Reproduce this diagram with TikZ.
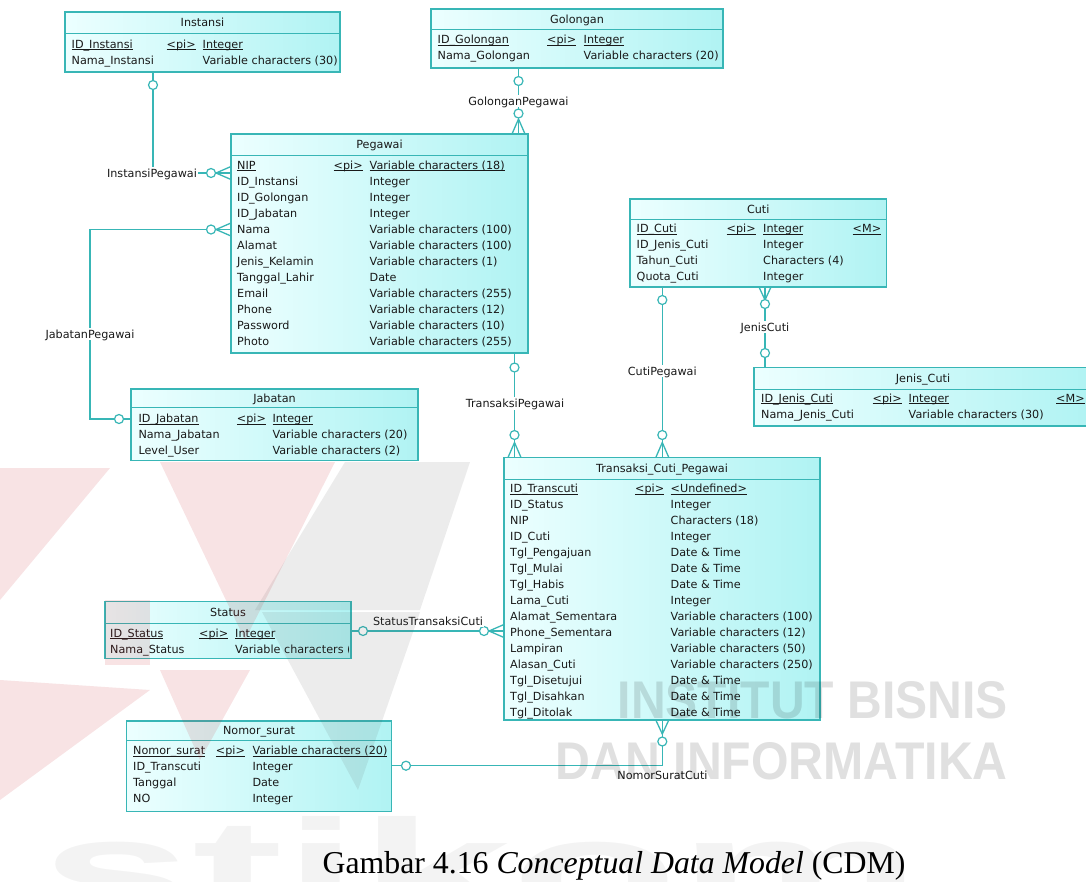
\documentclass[tikz,border=0pt]{standalone}
\usepackage{fontspec}
\setmainfont{DejaVu Sans}
\newfontfamily\capfont{Liberation Serif}
\newfontfamily\wmfont{Liberation Sans}
\usetikzlibrary{calc}
\definecolor{tealc}{RGB}{56,182,182}
\definecolor{cyL}{RGB}{236,255,255}
\definecolor{cyR}{RGB}{176,243,243}
\definecolor{txtc}{RGB}{25,25,25}
\definecolor{logored}{RGB}{200,30,40}
\definecolor{logogray}{RGB}{90,90,90}
\tikzset{
 entbox/.style={draw=tealc, line width=1.3pt, left color=cyL, right color=cyR, inner sep=0pt, outer sep=0pt, anchor=north west},
 hdr/.style={draw=tealc, line width=1pt},
 txt/.style={inner sep=0pt, text height=8.2pt, text depth=0pt, font=\fontsize{11.2}{13}\selectfont, text=txtc},
 conn/.style={draw=tealc, line width=1.3pt},
 circ/.style={circle, draw=tealc, fill=white, line width=1.2pt, minimum size=9pt, inner sep=0pt},
 lbl/.style={txt, fill=white, inner xsep=1pt, inner ysep=2pt},
 wm/.style={inner sep=0pt, text=black, opacity=0.12, font=\wmfont\bfseries},
 logor/.style={fill=logored, opacity=0.12},
 logog/.style={fill=logogray, opacity=0.11},
}
\newcommand\ul[1]{\setbox0\hbox{#1}\rlap{\rule[-2.2pt]{\wd0}{0.9pt}}\box0}
\newcommand\ent[7]{%
  \node[entbox, minimum width={#4-#2}, minimum height={#5-#3}] (#1) at (#2,#3) {};
  \draw[hdr] ($(#1.north west)+(0,#6-#3)$) -- ($(#1.north east)+(0,#6-#3)$);
  \node[txt] (#1-title) at ($(#1.north)+(0,{(#6-#3)/2})$) {#7};
}
\newcommand\rows[6]{%
  \foreach \a/\b/\c [count=\i from 0] in {#6}{%
    \node[txt, anchor=west] (#1-a\i) at ($(#1.north west)+(#2,{#5+16*\i})$) {\a};
    \node[txt, anchor=west] (#1-b\i) at ($(#1.north west)+(#3,{#5+16*\i})$) {\b};
    \node[txt, anchor=west] (#1-c\i) at ($(#1.north west)+(#4,{#5+16*\i})$) {\c};
  }}
\begin{document}
\begin{tikzpicture}[x=1pt,y=-1pt]
\useasboundingbox (0,0) rectangle (1086,881);
\fill[white] (0,0) rectangle (1086,881);
\clip (0,0) rectangle (1086,881);

% ---------- entities ----------
\ent{inst}{65}{12}{340}{72}{33}{Instansi}
\rows{inst}{6.5}{101.5}{137.5}{32}{\ul{ID\_Instansi}/\ul{<pi>}/\ul{Integer}, Nama\_Instansi//Variable characters (30)}

\ent{gol}{431}{9}{723}{68}{29.5}{Golongan}
\rows{gol}{6.5}{116}{152.5}{30.5}{\ul{ID\_Golongan}/\ul{<pi>}/\ul{Integer}, Nama\_Golongan//Variable characters (20)}

\ent{peg}{231}{134}{528}{353}{155}{Pegawai}
\rows{peg}{6}{102.5}{138.5}{31}{\ul{NIP}/\ul{<pi>}/\ul{Variable characters (18)}, ID\_Instansi//Integer, ID\_Golongan//Integer, ID\_Jabatan//Integer, Nama//Variable characters (100), Alamat//Variable characters (100), Jenis\_Kelamin//Variable characters (1), Tanggal\_Lahir//Date, Email//Variable characters (255), Phone//Variable characters (12), Password//Variable characters (10), Photo//Variable characters (255)}

\ent{cuti}{630}{199}{886.5}{287}{219}{Cuti}
\rows{cuti}{6.5}{96.5}{133}{29.7}{\ul{ID\_Cuti}/\ul{<pi>}/\ul{Integer}, ID\_Jenis\_Cuti//Integer, Tahun\_Cuti//Characters (4), Quota\_Cuti//Integer}
\node[txt, anchor=west] (cuti-m) at ($(cuti.north west)+(222.5,29.7)$) {\ul{<M>}};

\ent{jen}{754}{367.5}{1092}{426}{389}{Jenis\_Cuti}
\rows{jen}{7}{118.5}{154.5}{30.5}{\ul{ID\_Jenis\_Cuti}/\ul{<pi>}/\ul{Integer}, Nama\_Jenis\_Cuti//Variable characters (30)}
\node[txt, anchor=west] (jen-m) at ($(jen.north west)+(302,30.5)$) {\ul{<M>}};

\ent{jab}{131}{389}{418}{460.5}{407.5}{Jabatan}
\rows{jab}{7.3}{105.7}{141.3}{29.3}{\ul{ID\_Jabatan}/\ul{<pi>}/\ul{Integer}, Nama\_Jabatan//Variable characters (20), Level\_User//Variable characters (2)}

\ent{tr}{504}{457.5}{820}{720}{479}{Transaksi\_Cuti\_Pegawai}
\rows{tr}{6}{131}{166.5}{30.8}{\ul{ID\_Transcuti}/\ul{<pi>}/\ul{<Undefined>}, ID\_Status//Integer, NIP//Characters (18), ID\_Cuti//Integer, Tgl\_Pengajuan//Date \& Time, Tgl\_Mulai//Date \& Time, Tgl\_Habis//Date \& Time, Lama\_Cuti//Integer, Alamat\_Sementara//Variable characters (100), Phone\_Sementara//Variable characters (12), Lampiran//Variable characters (50), Alasan\_Cuti//Variable characters (250), Tgl\_Disetujui//Date \& Time, Tgl\_Disahkan//Date \& Time, Tgl\_Ditolak//Date \& Time}

\ent{stat}{105}{601.5}{351}{658.5}{623}{Status}
\begin{scope}
\clip (stat.north west) rectangle ($(stat.south east)+(-3,0)$);
\rows{stat}{5}{94}{130}{31.5}{\ul{ID\_Status}/\ul{<pi>}/\ul{Integer}, Nama\_Status//Variable characters (20)}
\end{scope}

\ent{nom}{126.5}{721}{391.7}{811.5}{740}{Nomor\_surat}
\rows{nom}{6.5}{89.2}{125.8}{29.7}{\ul{Nomor\_surat}/\ul{<pi>}/\ul{Variable characters (20)}, ID\_Transcuti//Integer, Tanggal//Date, NO//Integer}

% ---------- connectors ----------
% InstansiPegawai
\draw[conn] ($(inst.south west)+(88,0)$) |- ($(peg.north west)+(0,39)$);
\draw[conn] ($(peg.north west)+(0,32.5)$) -- ($(peg.north west)+(-15,39)$) -- ($(peg.north west)+(0,45.5)$);
\node[circ] (ci1) at ($(inst.south west)+(88,13)$) {};
\node[circ] (ci2) at ($(peg.north west)+(-20,39)$) {};
\node[lbl] (l1) at ($(inst.south west)+(87,101)$) {InstansiPegawai};

% GolonganPegawai
\draw[conn] ($(gol.south west)+(87.5,0)$) -- ($(peg.north west)+(287.5,0)$);
\draw[conn] ($(peg.north west)+(281,0)$) -- ($(peg.north west)+(287.5,-15)$) -- ($(peg.north west)+(294,0)$);
\node[circ] (cg1) at ($(gol.south west)+(87.5,13)$) {};
\node[circ] (cg2) at ($(peg.north west)+(287.5,-20.5)$) {};
\node[lbl] (l2) at ($(gol.south west)+(87.5,33)$) {GolonganPegawai};

% JabatanPegawai
\draw[conn] ($(peg.north west)+(0,95.5)$) -- ++(-141,0) |- ($(jab.north west)+(0,30)$);
\draw[conn] ($(peg.north west)+(0,89)$) -- ($(peg.north west)+(-15,95.5)$) -- ($(peg.north west)+(0,102)$);
\node[circ] (cj1) at ($(peg.north west)+(-20,95.5)$) {};
\node[circ] (cj2) at ($(jab.north west)+(-12,30)$) {};
\node[lbl] (l3) at ($(jab.north west)+(-41,-55)$) {JabatanPegawai};

% TransaksiPegawai
\draw[conn] ($(peg.south west)+(283.5,0)$) -- ($(tr.north west)+(10.5,0)$);
\draw[conn] ($(tr.north west)+(4,0)$) -- ($(tr.north west)+(10.5,-15)$) -- ($(tr.north west)+(17,0)$);
\node[circ] (ct1) at ($(peg.south west)+(283.5,14.5)$) {};
\node[circ] (ct2) at ($(tr.north west)+(10.5,-22.5)$) {};
\node[lbl] (l4) at ($(tr.north west)+(11,-54)$) {TransaksiPegawai};

% CutiPegawai
\draw[conn] ($(cuti.south west)+(32.3,0)$) -- ($(tr.north west)+(158.3,0)$);
\draw[conn] ($(tr.north west)+(151.8,0)$) -- ($(tr.north west)+(158.3,-15)$) -- ($(tr.north west)+(164.8,0)$);
\node[circ] (cc1) at ($(cuti.south west)+(32.3,13)$) {};
\node[circ] (cc2) at ($(tr.north west)+(158.3,-22.5)$) {};
\node[lbl] (l5) at ($(cuti.south west)+(32.3,84)$) {CutiPegawai};

% JenisCuti
\draw[conn] ($(cuti.south west)+(135,0)$) -- ($(jen.north west)+(11,0)$);
\draw[conn] ($(cuti.south west)+(129,0)$) -- ($(cuti.south west)+(135,13)$) -- ($(cuti.south west)+(141,0)$);
\node[circ] (cn1) at ($(cuti.south west)+(135,17)$) {};
\node[circ] (cn2) at ($(jen.north west)+(11,-14.5)$) {};
\node[lbl] (l6) at ($(cuti.south west)+(135,40)$) {JenisCuti};

% StatusTransaksiCuti
\draw[conn] ($(stat.north east)+(0,29.5)$) -- ($(tr.north west)+(0,173.5)$);
\draw[conn] ($(tr.north west)+(0,167)$) -- ($(tr.north west)+(-15,173.5)$) -- ($(tr.north west)+(0,180)$);
\node[circ] (cs1) at ($(stat.north east)+(12,29.5)$) {};
\node[circ] (cs2) at ($(tr.north west)+(-20,173.5)$) {};
\node[lbl] (l7) at ($(stat.north east)+(77,19.5)$) {StatusTransaksiCuti};

% NomorSuratCuti
\draw[conn] ($(tr.south west)+(158.3,0)$) |- ($(nom.north east)+(0,44.7)$);
\draw[conn] ($(tr.south west)+(151.8,0)$) -- ($(tr.south west)+(158.3,14)$) -- ($(tr.south west)+(164.8,0)$);
\node[circ] (cm1) at ($(tr.south west)+(158.3,21.5)$) {};
\node[circ] (cm2) at ($(nom.north east)+(14.3,44.7)$) {};
\node[lbl] (l8) at ($(tr.south west)+(158.5,55)$) {NomorSuratCuti};

% ---------- faint logo watermark ----------
\fill[logor] (0,468) -- (110,468) -- (0,600) -- cycle;
\fill[logor] (160,462) -- (335,462) -- (245,640) -- cycle;
\fill[logog] (345,462) -- (470,462) -- (420,610) -- (255,610) -- cycle;
\fill[logor] (105,600) -- (150,600) -- (150,665) -- (105,665) -- cycle;
\fill[logog] (262,612) -- (420,612) -- (358,790) -- cycle;
\fill[logor] (0,680) -- (150,690) -- (0,800) -- cycle;
\fill[logor] (160,670) -- (250,670) -- (200,760) -- cycle;
\node[inner sep=0pt, anchor=south west, text=logogray, opacity=0.07, font=\wmfont\bfseries] (wm0) at (40,918) {\resizebox{880pt}{100pt}{stikom}};

% ---------- watermark text ----------
\node[wm, anchor=south east] (wm1) at (1008,719) {\resizebox{390pt}{37pt}{INSTITUT BISNIS}};
\node[wm, anchor=south east] (wm2) at (1008,780) {\resizebox{452pt}{37pt}{DAN INFORMATIKA}};

% ---------- caption ----------
\node[inner sep=0pt, anchor=base, font=\capfont\fontsize{31.8}{36}\selectfont] (cap) at (614,873) {Gambar 4.16 \textit{Conceptual Data Model} (CDM)};
\end{tikzpicture}
\end{document}
